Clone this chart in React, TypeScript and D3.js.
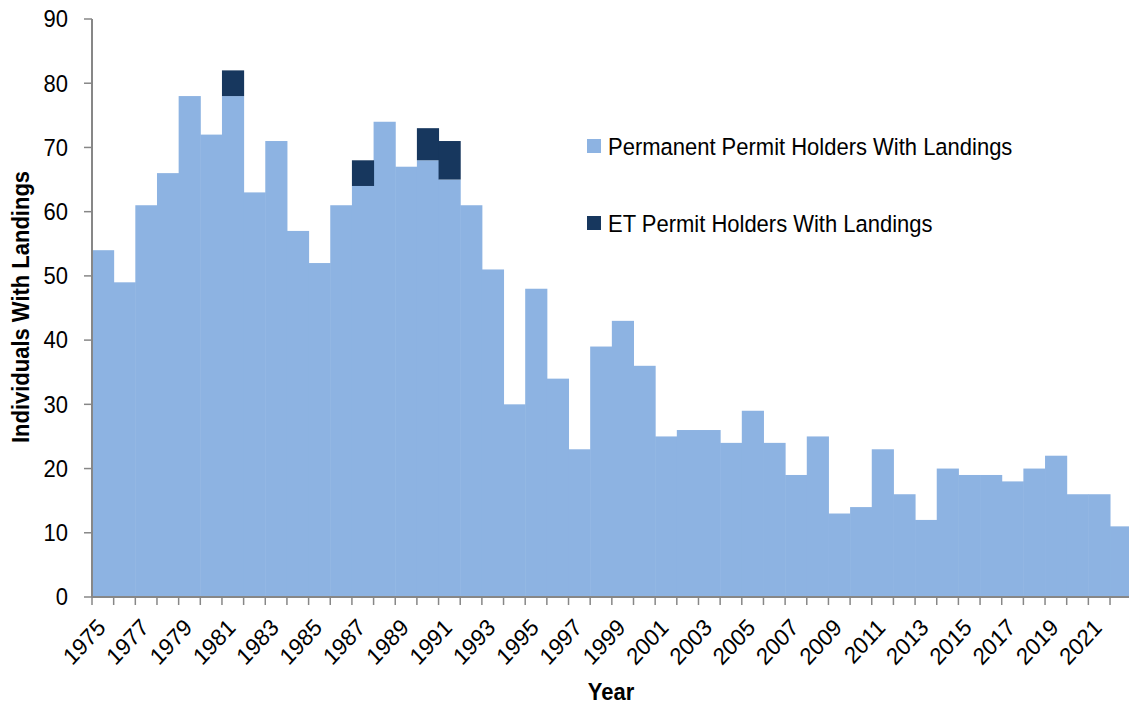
import * as d3 from "d3";
import React, { useEffect, useRef } from "react";

// years on the x axis
const years = d3.range(1975, 2023).map(String);

// permanent permit holders with landings, one per year 1975..2022
const permanent = [
  54, 49, 61, 66, 78, 72, 78, 63, 71, 57,
  52, 61, 64, 74, 67, 68, 65, 61, 51, 30,
  48, 34, 23, 39, 43, 36, 25, 26, 26, 24,
  29, 24, 19, 25, 13, 14, 23, 16, 12, 20,
  19, 19, 18, 20, 22, 16, 16, 11,
];

// ET permit holders with landings (only a few years have any)
const et = [
  0, 0, 0, 0, 0, 0, 4, 0, 0, 0,
  0, 0, 4, 0, 0, 5, 6, 0, 0, 0,
  0, 0, 0, 0, 0, 0, 0, 0, 0, 0,
  0, 0, 0, 0, 0, 0, 0, 0, 0, 0,
  0, 0, 0, 0, 0, 0, 0, 0,
];

const seriesNames = [
  "Permanent Permit Holders With Landings",
  "ET Permit Holders With Landings",
];
const yTicks = [0, 10, 20, 30, 40, 50, 60, 70, 80, 90];

const colors = ["#8db3e2", "#17375e"];

function Chart() {
  const ref = useRef(null);

  useEffect(() => {
    if (!ref.current) return;
    const width = 1129;
    const left = 92;
    const step = 21.66;
    const top = 19;
    const bottom = 597;
    const font = "'Liberation Sans', Arial, sans-serif";
    const sy = 1.08; // the original text is a little taller than wide

    const svg = d3.select(ref.current);
    svg.selectChildren().remove();

    const x = d3
      .scaleBand()
      .domain(years)
      .range([left, left + step * years.length])
      .padding(0);
    const y = d3.scaleLinear().domain([0, 90]).range([bottom, top]);

    const rows = years.map((yr, i) => ({ year: yr, permanent: permanent[i], et: et[i] }));
    const stacked = d3.stack().keys(["permanent", "et"])(rows as any);

    svg
      .append("g")
      .selectAll("g")
      .data(stacked)
      .join("g")
      .attr("fill", (d, i) => colors[i])
      .selectAll("rect")
      .data((d) => d.filter((v) => v[1] - v[0] > 0))
      .join("rect")
      .attr("x", (d: any) => x(d.data.year))
      .attr("width", x.bandwidth() + 0.5)
      .attr("y", (d) => y(d[1]))
      .attr("height", (d) => y(d[0]) - y(d[1]));

    const axisColor = "#878787";

    // y axis
    const ya = svg.append("g");
    ya.append("line")
      .attr("x1", left)
      .attr("x2", left)
      .attr("y1", top)
      .attr("y2", bottom)
      .attr("stroke", axisColor)
      .attr("stroke-width", 2);
    ya.selectAll("line.tick")
      .data(yTicks)
      .join("line")
      .attr("class", "tick")
      .attr("x1", left - 8)
      .attr("x2", left)
      .attr("y1", (d) => y(d))
      .attr("y2", (d) => y(d))
      .attr("stroke", axisColor)
      .attr("stroke-width", 1.5);
    ya.selectAll("text")
      .data(yTicks)
      .join("text")
      .attr("transform", (d) => `translate(68,${y(d)}) scale(1,${sy})`)
      .attr("dy", "0.35em")
      .attr("text-anchor", "end")
      .attr("font-family", font)
      .attr("font-size", 22)
      .text((d) => d);

    // x axis
    const xa = svg.append("g");
    xa.append("line")
      .attr("x1", left)
      .attr("x2", width)
      .attr("y1", bottom)
      .attr("y2", bottom)
      .attr("stroke", axisColor)
      .attr("stroke-width", 2);
    xa.selectAll("line.tick")
      .data(years)
      .join("line")
      .attr("class", "tick")
      .attr("x1", (d) => x(d))
      .attr("x2", (d) => x(d))
      .attr("y1", bottom)
      .attr("y2", bottom + 8)
      .attr("stroke", axisColor)
      .attr("stroke-width", 1.5);
    xa.selectAll("text")
      .data(years.filter((d, i) => i % 2 === 0))
      .join("text")
      .attr(
        "transform",
        (d) =>
          `translate(${x(d) + x.bandwidth() / 2 + 4},629) scale(1,${sy}) rotate(-45)`
      )
      .attr("text-anchor", "end")
      .attr("font-family", font)
      .attr("font-size", 22)
      .text((d) => d);

    // axis titles
    svg
      .append("text")
      .attr("transform", `translate(29,307) scale(${sy},1) rotate(-90)`)
      .attr("text-anchor", "middle")
      .attr("font-family", font)
      .attr("font-size", 22)
      .attr("font-weight", "bold")
      .text("Individuals With Landings");
    svg
      .append("text")
      .attr("transform", `translate(611,700) scale(1,${sy})`)
      .attr("text-anchor", "middle")
      .attr("font-family", font)
      .attr("font-size", 22)
      .attr("font-weight", "bold")
      .text("Year");

    // legend
    const lg = svg
      .append("g")
      .selectAll("g")
      .data(seriesNames)
      .join("g")
      .attr("transform", (d, i) => `translate(587,${139 + i * 77})`);
    lg.append("rect")
      .attr("width", 14)
      .attr("height", 14)
      .attr("fill", (d, i) => colors[i]);
    lg.append("text")
      .attr("transform", `translate(21,16) scale(1,${sy})`)
      .attr("font-family", font)
      .attr("font-size", 22)
      .text((d) => d);
  }, []);

  return (
    <svg
      ref={ref}
      width={1129}
      height={711}
      style={{ position: "absolute", left: 0, top: 0, background: "#fff" }}
    ></svg>
  );
}

export default function App() {
  return <Chart />;
}
